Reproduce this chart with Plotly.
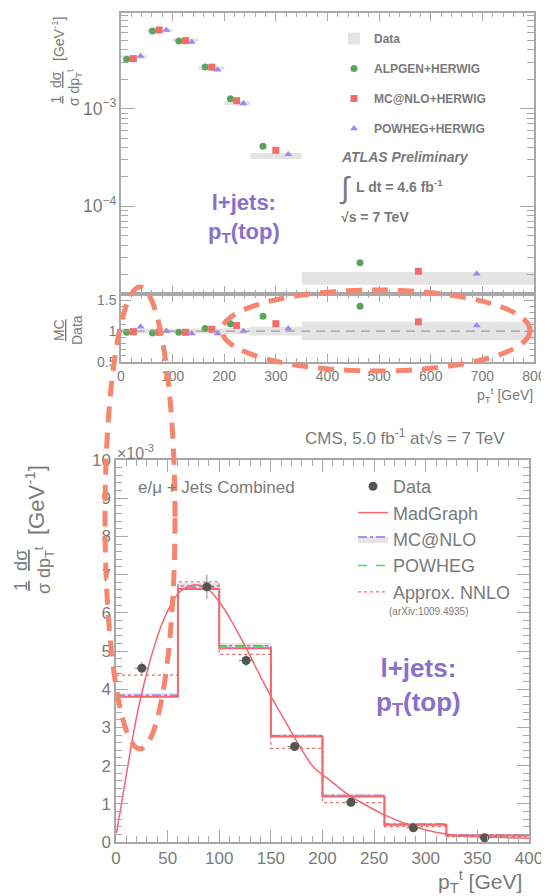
import plotly.graph_objects as go

W, H = 549, 896
OFF = 8  # the page body margin shifts the figure by this many pixels
FONT = "Liberation Sans, Arial, Helvetica, sans-serif"
TEXT = "#7a7a7a"
FRAME = "#a8a8a8"
BAND = "#e4e4e4"
GREEN = "#5aa55a"
RED = "#f46b6b"
PURPLE = "#9d88f2"
LABEL_PURPLE = "#8a6fcb"
SALMON = "#f7866f"

# ATLAS, 1/sigma dsigma/dpT (log) and MC/Data
ATLAS_EDGES = [0, 50, 100, 150, 200, 250, 350, 800]
ATLAS_DATA = [3.37e-3, 6.3e-3, 5.05e-3, 2.6e-3, 1.14e-3, 3.29e-4, 1.85e-5]
ATLAS_DATA_REL = [0.04, 0.04, 0.04, 0.04, 0.05, 0.07, 0.15]
ALPGEN_X = [11, 61, 112, 163, 212, 275, 463]
ALPGEN_Y = [3.21e-3, 6.25e-3, 4.94e-3, 2.68e-3, 1.265e-3, 4.12e-4, 2.64e-5]
ALPGEN_R = [0.98, 0.97, 0.98, 1.04, 1.12, 1.24, 1.40]
MCNLO_X = [24, 74, 125, 176, 224, 300, 576]
MCNLO_Y = [3.26e-3, 6.4e-3, 4.98e-3, 2.66e-3, 1.207e-3, 3.75e-4, 2.16e-5]
MCNLO_R = [0.99, 0.98, 0.98, 1.03, 1.09, 1.12, 1.15]
POWHEG_X = [38, 88, 137, 187, 237, 324, 689]
POWHEG_Y = [3.47e-3, 6.4e-3, 4.83e-3, 2.5e-3, 1.13e-3, 3.42e-4, 2.04e-5]
POWHEG_R = [1.07, 1.00, 0.96, 0.96, 1.00, 1.04, 1.09]

# CMS, 1/sigma dsigma/dpT (x 10^-3)
CMS_EDGES = [0, 60, 100, 150, 200, 260, 320, 400]
MADGRAPH_HIST = [3.80, 6.62, 5.07, 2.76, 1.19, 0.45, 0.17]
MCNLO_HIST = [3.84, 6.70, 5.14, 2.78, 1.22, 0.47, 0.18]
MCNLO_ERR = [0.06, 0.07, 0.06, 0.05, 0.04, 0.03, 0.02]
POWHEG_HIST = [3.82, 6.66, 5.12, 2.77, 1.21, 0.46, 0.17]
NNLO_HIST = [4.37, 6.81, 4.91, 2.45, 1.03, 0.40, 0.14]
CMS_DATA_X = [25, 88, 126, 173, 227.5, 288, 357]
CMS_DATA_Y = [4.55, 6.68, 4.75, 2.50, 1.04, 0.37, 0.11]
CMS_DATA_EY = [0.17, 0.32, 0.15, 0.10, 0.06, 0.04, 0.03]
CMS_DATA_EX = [7, 7, 7, 7, 7, 7, 7]
MADGRAPH_CURVE_X = [0.5, 7, 13.5, 20, 26.5, 36, 46, 54, 62, 75, 88, 101, 114,
                    127, 140, 152, 165, 178, 191, 207, 226, 243, 260, 294, 327,
                    360, 400]
MADGRAPH_CURVE_Y = [0.23, 1.27, 2.32, 3.28, 4.07, 5.03, 5.81, 6.25, 6.55, 6.73,
                    6.64, 6.25, 5.68, 5.03, 4.33, 3.72, 3.11, 2.50, 1.97, 1.62,
                    1.22, 0.95, 0.71, 0.36, 0.18, 0.13, 0.10]


def px(x):
  return (x - OFF) / W


def py(y):
  return 1 - (y - OFF) / H


def steps(values):
  return list(values) + [values[-1]]


centers = [(a + b) / 2 for a, b in zip(ATLAS_EDGES[:-1], ATLAS_EDGES[1:])]
widths = [b - a for a, b in zip(ATLAS_EDGES[:-1], ATLAS_EDGES[1:])]

fig = go.Figure()

# ATLAS data bands
fig.add_trace(go.Bar(
  x=centers, width=widths,
  base=[d * (1 - e) for d, e in zip(ATLAS_DATA, ATLAS_DATA_REL)],
  y=[2 * d * e for d, e in zip(ATLAS_DATA, ATLAS_DATA_REL)],
  marker=dict(color=BAND, line=dict(width=0)),
  name="Data", legend="legend", legendgroup="d",
  xaxis="x", yaxis="y",
))
fig.add_trace(go.Bar(
  x=centers, width=widths,
  base=[1 - e for e in ATLAS_DATA_REL],
  y=[2 * e for e in ATLAS_DATA_REL],
  marker=dict(color=BAND, line=dict(width=0)),
  showlegend=False, xaxis="x2", yaxis="y2",
))

mc_sets = [
  ("ALPGEN+HERWIG", ALPGEN_X, ALPGEN_Y, ALPGEN_R, GREEN, "circle", 7),
  ("MC@NLO+HERWIG", MCNLO_X, MCNLO_Y, MCNLO_R, RED, "square", 7),
  ("POWHEG+HERWIG", POWHEG_X, POWHEG_Y, POWHEG_R, PURPLE, "triangle-up", 7),
]
for name, xs, ys, rs, color, symbol, size in mc_sets:
  fig.add_trace(go.Scatter(
    x=xs, y=ys, mode="markers", name=name, legend="legend", legendgroup=name,
    marker=dict(color=color, symbol=symbol, size=size),
    xaxis="x", yaxis="y",
  ))
  fig.add_trace(go.Scatter(
    x=xs, y=rs, mode="markers", showlegend=False, legendgroup=name,
    marker=dict(color=color, symbol=symbol, size=size),
    xaxis="x2", yaxis="y2",
  ))

# CMS: MC@NLO band, then its central line filling up to the band top
fig.add_trace(go.Scatter(
  x=CMS_EDGES, y=steps([v - e for v, e in zip(MCNLO_HIST, MCNLO_ERR)]),
  mode="lines", line=dict(width=0, shape="hv"), showlegend=False,
  hoverinfo="skip", xaxis="x3", yaxis="y3",
))
fig.add_trace(go.Scatter(
  x=CMS_EDGES, y=steps([v + e for v, e in zip(MCNLO_HIST, MCNLO_ERR)]),
  mode="lines", line=dict(width=0, shape="hv"), fill="tonexty",
  fillcolor=BAND, showlegend=False, hoverinfo="skip",
  xaxis="x3", yaxis="y3",
))
fig.add_trace(go.Scatter(
  x=CMS_EDGES, y=steps(MCNLO_HIST), mode="lines", name="MC@NLO",
  legend="legend2", legendrank=3, fill="tonexty", fillcolor=BAND,
  line=dict(color="#9b6cf0", width=1.5, dash="dashdot", shape="hv"),
  xaxis="x3", yaxis="y3",
))
fig.add_trace(go.Scatter(
  x=CMS_EDGES, y=steps(POWHEG_HIST), mode="lines", name="POWHEG",
  legend="legend2", legendrank=4,
  line=dict(color="#3fe06a", width=1.5, dash="dash", shape="hv"),
  xaxis="x3", yaxis="y3",
))
fig.add_trace(go.Scatter(
  x=CMS_EDGES, y=steps(NNLO_HIST), mode="lines", name="Approx. NNLO",
  legend="legend2", legendrank=5,
  line=dict(color="#e07070", width=1.3, dash="dot", shape="hv"),
  xaxis="x3", yaxis="y3",
))
fig.add_trace(go.Scatter(
  x=CMS_EDGES, y=steps(MADGRAPH_HIST), mode="lines", showlegend=False,
  line=dict(color="#f46670", width=2, shape="hv"),
  xaxis="x3", yaxis="y3",
))
fig.add_trace(go.Scatter(
  x=MADGRAPH_CURVE_X, y=MADGRAPH_CURVE_Y, mode="lines", name="MadGraph",
  legend="legend2", legendrank=2,
  line=dict(color="#f46670", width=1.5, shape="spline"),
  xaxis="x3", yaxis="y3",
))
fig.add_trace(go.Scatter(
  x=CMS_DATA_X, y=CMS_DATA_Y, mode="markers", name="Data", legend="legend2",
  legendrank=1, marker=dict(color="#555555", size=9),
  error_y=dict(array=CMS_DATA_EY, color="#8a8a8a", thickness=1, width=0),
  error_x=dict(array=CMS_DATA_EX, color="#8a8a8a", thickness=1, width=0),
  xaxis="x3", yaxis="y3",
))


def axis(**kw):
  base = dict(
    showline=True, linecolor=FRAME, linewidth=1.5, mirror="allticks",
    ticks="inside", tickcolor=FRAME, tickwidth=1, showgrid=False,
    zeroline=False, automargin=False,
    tickfont=dict(family=FONT, size=14, color=TEXT),
  )
  base.update(kw)
  return base


minor_x1 = dict(ticks="inside", dtick=20, ticklen=4, tickcolor=FRAME)

fig.update_layout(
  width=W, height=H,
  margin=dict(l=0, r=0, t=0, b=0, autoexpand=False),
  paper_bgcolor="white", plot_bgcolor="white",
  font=dict(family=FONT, color=TEXT),
  barmode="overlay",
  xaxis=axis(domain=[px(121), px(534)], anchor="y", range=[0, 800],
             dtick=100, ticklen=8, minor=minor_x1, showticklabels=False),
  yaxis=axis(domain=[py(294), py(13)], anchor="x", type="log",
             range=[-4.898, -2.02], dtick=1, ticklen=14,
             exponentformat="power", showexponent="all",
             minor=dict(ticks="inside", dtick="D1", ticklen=7,
                        tickcolor=FRAME)),
  xaxis2=axis(domain=[px(121), px(534)], anchor="y2", range=[0, 800],
              dtick=100, ticklen=8, minor=minor_x1),
  yaxis2=axis(domain=[py(362), py(294)], anchor="x2", range=[0.5, 1.6],
              tickvals=[0.5, 1, 1.5], ticktext=["0.5", "1", "1.5"],
              ticklen=10,
              minor=dict(ticks="inside", dtick=0.1, ticklen=5,
                         tickcolor=FRAME)),
  xaxis3=axis(domain=[px(116), px(529)], anchor="y3", range=[0, 400],
              dtick=50, ticklen=12, tickfont=dict(family=FONT, size=17,
                                                  color=TEXT),
              minor=dict(ticks="inside", dtick=10, ticklen=6,
                         tickcolor=FRAME)),
  yaxis3=axis(domain=[py(842), py(460)], anchor="x3", range=[0, 10],
              dtick=1, ticklen=12, tickfont=dict(family=FONT, size=17,
                                                 color=TEXT),
              minor=dict(ticks="inside", dtick=0.2, ticklen=6,
                         tickcolor=FRAME)),
  legend=dict(
    x=px(334), y=py(24), xanchor="left", yanchor="top",
    bgcolor="rgba(0,0,0,0)", tracegroupgap=11, traceorder="grouped",
    font=dict(family=FONT, size=12, color=TEXT, weight="bold"),
  ),
  legend2=dict(
    x=px(353), y=py(468), xanchor="left", yanchor="top",
    bgcolor="rgba(0,0,0,0)", tracegroupgap=0, traceorder="normal",
    font=dict(family=FONT, size=18, color=TEXT),
  ),
)

fig.add_shape(type="line", xref="x2 domain", yref="y2", x0=0, x1=1, y0=1,
              y1=1, line=dict(color="#9a9a9a", width=1.3, dash="9px,6px"))


def note(x, y, text, size, xanchor="center", angle=0, color=TEXT,
         bold=False, italic=False):
  fig.add_annotation(
    x=px(x), y=py(y), xref="paper", yref="paper", text=text,
    showarrow=False, xanchor=xanchor, yanchor="middle", textangle=angle,
    font=dict(family=FONT, size=size, color=color,
              weight="bold" if bold else "normal",
              style="italic" if italic else "normal"),
  )


# ATLAS texts
note(58, 39, "[GeV<sup>-1</sup>]", 14, angle=-90)
note(66, 88, "<u>1</u>  <u>dσ</u><br>σ dp<sub>T</sub><sup>t</sup>", 14,
     angle=-90)
note(68, 330, "<u>MC</u><br>Data", 14, angle=-90)
note(535, 395, "p<sub>T</sub><sup>t</sup> [GeV]", 14, xanchor="right")
note(244, 218, "l+jets:<br>p<sub>T</sub>(top)", 22, color=LABEL_PURPLE,
     bold=True)
note(339, 157, "ATLAS Preliminary", 14, xanchor="left", bold=True,
     italic=True)
note(337, 188, "∫", 30, xanchor="left")
note(354, 186, "L dt = 4.6 fb<sup>-1</sup>", 14, xanchor="left", bold=True)
note(339, 217, "√s = 7 TeV", 14, xanchor="left", bold=True)

# CMS texts
note(507, 437, "CMS, 5.0 fb<sup>-1</sup> at√s = 7 TeV", 17, xanchor="right")
note(115, 452, "×10<sup>-3</sup>", 16, xanchor="left")
note(136, 487, "e/μ + Jets Combined", 17, xanchor="left")
note(387, 611, "(arXiv:1009.4935)", 10, xanchor="left")
note(418, 686, "l+jets:<br>p<sub>T</sub>(top)", 26, color=LABEL_PURPLE,
     bold=True)
note(35, 500, "[GeV<sup>-1</sup>]", 22, angle=-90)
note(34, 570, "<u>1</u>  <u>dσ</u><br>σ dp<sub>T</sub><sup>t</sup>", 18,
     angle=-90)
note(524, 881, "p<sub>T</sub><sup>t</sup> [GeV]", 21, xanchor="right")

# highlight ellipses
ellipse = dict(color=SALMON, width=5, dash="16px,10px")
fig.add_shape(type="circle", xref="paper", yref="paper", layer="above",
              x0=px(105), x1=px(175), y0=py(749), y1=py(287), line=ellipse)
fig.add_shape(type="circle", xref="paper", yref="paper", layer="above",
              x0=px(222), x1=px(530), y0=py(371), y1=py(290), line=ellipse)

fig.write_html("out.html")
